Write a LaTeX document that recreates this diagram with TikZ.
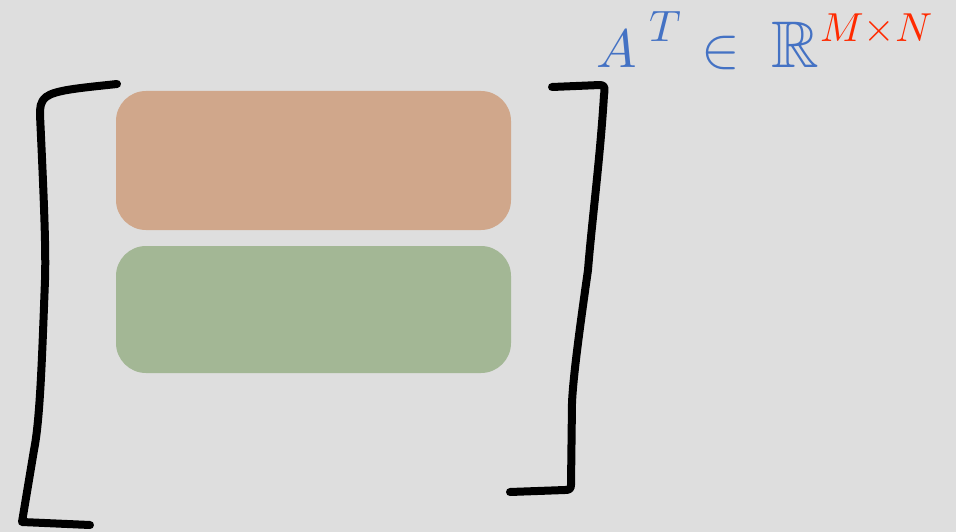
\documentclass[tikz,border=0pt]{standalone}
\usepackage{amssymb}
\definecolor{bg}{HTML}{DEDEDE}
\definecolor{orng}{HTML}{D0A78B}
\definecolor{grn}{HTML}{A3B795}
\definecolor{blu}{HTML}{4472C4}
\definecolor{rd}{HTML}{FF2A00}
\begin{document}
\begin{tikzpicture}[x=1pt,y=-1pt,
  blk/.style={rounded corners=30pt},
  brk/.style={line width=8pt,line cap=round,line join=round},
  sym/.style={anchor=base west,inner sep=0pt,text=blu}]
\fill[bg] (0,0) rectangle (956,532);
\useasboundingbox (0,0) rectangle (956,532);
\fill[orng,blk] (116,91) rectangle (511,230);
\fill[grn,blk] (116,246) rectangle (511,373);
\draw[brk] (117,84) .. controls (80,88) and (55,90) .. (46,97)
  .. controls (40,102) and (40,108) .. (40,115)
  .. controls (44,200) and (46,250) .. (45,280)
  .. controls (42,360) and (40,420) .. (34,450)
  -- (22,522) -- (90,525);
\draw[brk] (552,87) -- (600,85) .. controls (605,85) and (605,88) .. (604,95)
  .. controls (600,160) and (592,220) .. (588,270)
  .. controls (578,340) and (573,380) .. (572,403)
  -- (571,485) .. controls (571,489) and (569,490) .. (565,490) -- (510,492);
\node[sym] (a) at (596,68) {\scalebox{5.4}{$A$}};
\node[sym] (t) at (649,42) {\scalebox{4.4}{$T$}};
\node[sym] (in) at (701,68) {\scalebox{5.8}{$\in$}};
\node[sym] (r) at (771,68) {\scalebox{6.6}{$\mathbb{R}$}};
\node[sym,text=rd] (mn) at (820,42) {\scalebox{4.05}{$M{\times}N$}};
\end{tikzpicture}
\end{document}
